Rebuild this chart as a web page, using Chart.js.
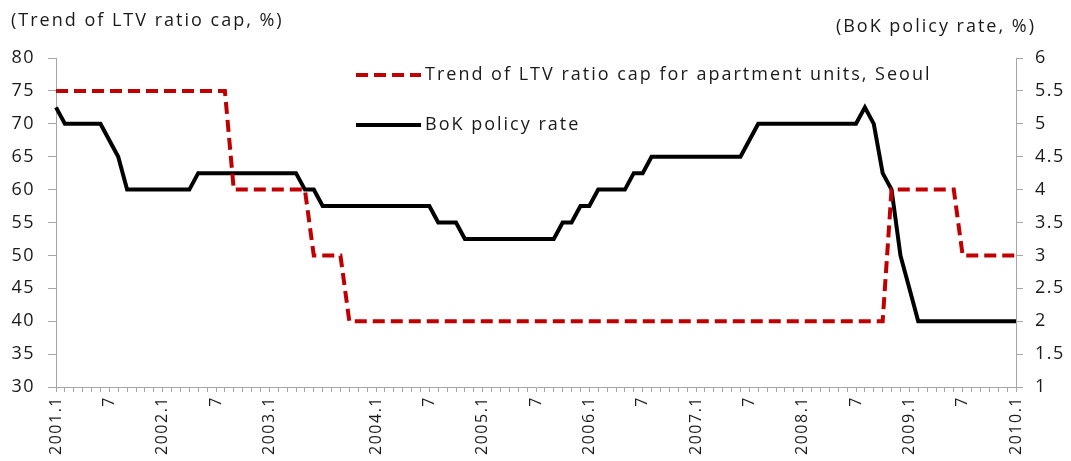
<!DOCTYPE html>
<html>
<head>
<meta charset="utf-8">
<script src="https://cdn.jsdelivr.net/npm/chart.js@4/dist/chart.umd.min.js"></script>
<style>
  html, body { margin: 0; padding: 0; background: #fff; }
  #wrap { width: 1071px; height: 461px; position: relative; }
</style>
</head>
<body>
<div id="wrap"><canvas id="ltvChart" width="1071" height="461"></canvas></div>
<script>
// months 2001.1 .. 2010.1
const years = [2001, 2002, 2003, 2004, 2005, 2006, 2007, 2008, 2009];
const months = [];
years.forEach(y => { for (let m = 1; m <= 12; m++) months.push(y + "." + m); });
months.push("2010.1");

// labels that are actually printed under the axis (2003.7 is left out in the original)
const shownTicks = ["2001.1", "2001.7", "2002.1", "2002.7", "2003.1", "2004.1", "2004.7",
    "2005.1", "2005.7", "2006.1", "2006.7", "2007.1", "2007.7", "2008.1", "2008.7",
    "2009.1", "2009.7", "2010.1"];

// LTV ratio cap for apartment units in Seoul (%), one value per month
const ltvCap = [
    75, 75, 75, 75, 75, 75, 75, 75, 75, 75, 75, 75,   // 2001
    75, 75, 75, 75, 75, 75, 75, 75, 60, 60, 60, 60,   // 2002
    60, 60, 60, 60, 60, 50, 50, 50, 50, 40, 40, 40,   // 2003
    40, 40, 40, 40, 40, 40, 40, 40, 40, 40, 40, 40,   // 2004
    40, 40, 40, 40, 40, 40, 40, 40, 40, 40, 40, 40,   // 2005
    40, 40, 40, 40, 40, 40, 40, 40, 40, 40, 40, 40,   // 2006
    40, 40, 40, 40, 40, 40, 40, 40, 40, 40, 40, 40,   // 2007
    40, 40, 40, 40, 40, 40, 40, 40, 40, 40, 60, 60,   // 2008
    60, 60, 60, 60, 60, 60, 50, 50, 50, 50, 50, 50,   // 2009
    50                                                // 2010.1
];

// BoK policy rate (%), one value per month
const policyRate = [
    5.25, 5, 5, 5, 5, 5, 4.75, 4.5, 4, 4, 4, 4,                        // 2001
    4, 4, 4, 4, 4.25, 4.25, 4.25, 4.25, 4.25, 4.25, 4.25, 4.25,        // 2002
    4.25, 4.25, 4.25, 4.25, 4, 4, 3.75, 3.75, 3.75, 3.75, 3.75, 3.75,  // 2003
    3.75, 3.75, 3.75, 3.75, 3.75, 3.75, 3.75, 3.5, 3.5, 3.5, 3.25, 3.25, // 2004
    3.25, 3.25, 3.25, 3.25, 3.25, 3.25, 3.25, 3.25, 3.25, 3.5, 3.5, 3.75, // 2005
    3.75, 4, 4, 4, 4, 4.25, 4.25, 4.5, 4.5, 4.5, 4.5, 4.5,             // 2006
    4.5, 4.5, 4.5, 4.5, 4.5, 4.5, 4.75, 5, 5, 5, 5, 5,                 // 2007
    5, 5, 5, 5, 5, 5, 5, 5.25, 5, 4.25, 4, 3,                          // 2008
    2.5, 2, 2, 2, 2, 2, 2, 2, 2, 2, 2, 2,                              // 2009
    2                                                                  // 2010.1
];

const FONT = "'Open Sans', 'Noto Sans', sans-serif";
const AXIS_GREY = "#a6a6a6";
const TEXT = "#1a1a1a";

// original text is set quite loose, so widen the tick labels a little
const spacing = {
    id: "spacing",
    beforeDraw(chart) {
        chart.ctx.letterSpacing = "1.5px";
    }
};

// axis captions + legend, drawn by hand to sit where the original has them
const decorations = {
    id: "decorations",
    afterDraw(chart) {
        const ctx = chart.ctx;
        ctx.save();
        ctx.letterSpacing = "2px";
        ctx.fillStyle = TEXT;
        ctx.font = "18px " + FONT;
        ctx.textBaseline = "middle";
        ctx.textAlign = "left";
        ctx.fillText("(Trend of LTV ratio cap, %)", 11, 21);
        ctx.textAlign = "right";
        ctx.fillText("(BoK policy rate, %)", 1036, 27);

        // legend
        ctx.textAlign = "left";
        const rows = [75, 125];
        chart.data.datasets.forEach((ds, i) => {
            const y = rows[i];
            ctx.beginPath();
            ctx.strokeStyle = ds.borderColor;
            ctx.lineWidth = ds.borderWidth;
            ctx.setLineDash(ds.borderDash || []);
            ctx.moveTo(356, y);
            ctx.lineTo(421, y);
            ctx.stroke();
            ctx.setLineDash([]);
            ctx.fillStyle = TEXT;
            ctx.fillText(ds.label, 425, y);
        });
        ctx.restore();
    }
};

new Chart(document.getElementById("ltvChart"), {
    type: "line",
    data: {
        labels: months,
        datasets: [
            {
                label: "Trend of LTV ratio cap for apartment units, Seoul",
                data: ltvCap,
                yAxisID: "y",
                borderColor: "#c00000",
                borderWidth: 4,
                borderDash: [12, 6],
                pointRadius: 0,
                tension: 0,
                fill: false
            },
            {
                label: "BoK policy rate",
                data: policyRate,
                yAxisID: "y1",
                borderColor: "#000000",
                borderWidth: 4,
                pointRadius: 0,
                tension: 0,
                fill: false
            }
        ]
    },
    options: {
        responsive: false,
        animation: false,
        layout: { padding: { top: 58, left: 0, right: 0, bottom: 0 } },
        plugins: {
            legend: { display: false },
            tooltip: { enabled: false }
        },
        scales: {
            x: {
                grid: { display: true, drawOnChartArea: false, drawTicks: true, tickLength: 5, color: AXIS_GREY },
                border: { display: true, color: AXIS_GREY },
                ticks: {
                    autoSkip: false,
                    minRotation: 90,
                    maxRotation: 90,
                    padding: 4,
                    color: TEXT,
                    font: { size: 16, family: FONT },
                    callback: function (val, idx) {
                        const lab = months[idx];
                        if (!shownTicks.includes(lab)) return "";
                        return lab.endsWith(".7") ? "7" : lab;
                    }
                },
                afterFit: scale => { scale.height = 74; }
            },
            y: {
                position: "left",
                min: 30,
                max: 80,
                ticks: { stepSize: 5, padding: 13, color: TEXT, font: { size: 18, family: FONT } },
                grid: { display: true, drawOnChartArea: false, drawTicks: true, tickLength: 8, color: AXIS_GREY },
                border: { display: true, color: AXIS_GREY },
                afterFit: scale => { scale.width = 56; }
            },
            y1: {
                position: "right",
                min: 1,
                max: 6,
                ticks: {
                    stepSize: 0.5, padding: 12, color: TEXT, font: { size: 18, family: FONT },
                    callback: v => String(v)
                },
                grid: { display: true, drawOnChartArea: false, drawTicks: true, tickLength: 7, color: AXIS_GREY },
                border: { display: true, color: AXIS_GREY },
                afterFit: scale => { scale.width = 55; }
            }
        }
    },
    plugins: [spacing, decorations]
});
</script>
</body>
</html>
